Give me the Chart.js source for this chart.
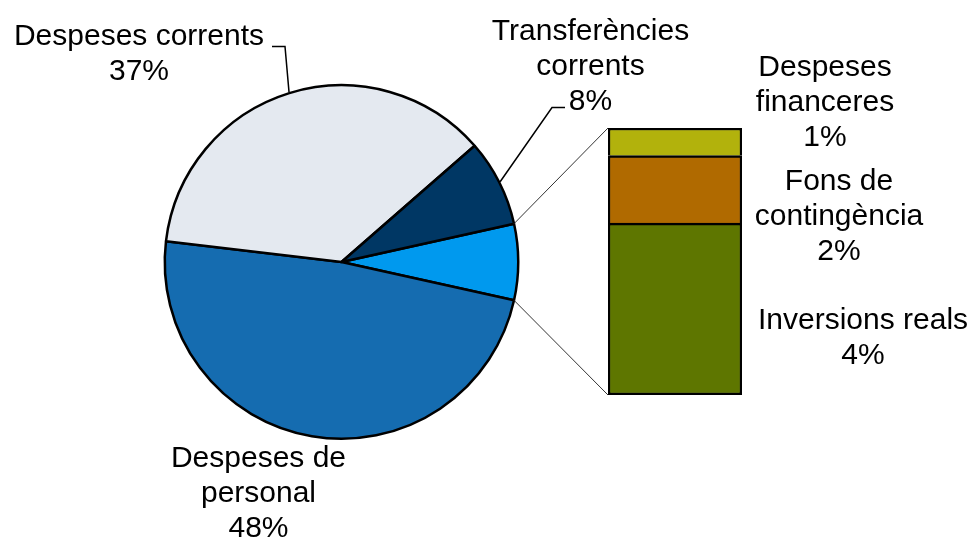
<!DOCTYPE html>
<html><head><meta charset="utf-8">
<script src="https://cdn.jsdelivr.net/npm/chart.js@4/dist/chart.umd.min.js"></script>
<style>
html,body{margin:0;padding:0;background:#fff;}
#wrap{position:relative;width:975px;height:540px;overflow:hidden;}
#wrap canvas{position:absolute;left:0;top:0;}
</style></head><body>
<div id="wrap"><canvas id="pie" width="975" height="540"></canvas><canvas id="bar" width="975" height="540"></canvas></div>
<script>
// ---- data ----
const pieCategories = [['Despeses de', 'personal'], ['Despeses corrents'], ['Transferències', 'corrents']];
const pieValues = [48.4, 36.7, 7.94];
const pieColors = ['#156CB0', '#E4E9F0', '#003764'];
const otherColor = '#0099EE';
const barCategories = [['Inversions reals'], ['Fons de', 'contingència'], ['Despeses', 'financeres']];
const barValues = [4.48, 1.76, 0.72];
const barColors = ['#5E7600', '#B06A00', '#B2B20C'];

// ---- label layout (center x, first baseline y) ----
const pieLabelPos = [{x: 258.5, y: 466.5}, {x: 139, y: 45}, {x: 590.5, y: 39.5}];
const barLabelPos = [{x: 863, y: 328.5}, {x: 839, y: 190}, {x: 825, y: 76}];
// leader lines: elbow point and end point (for slices that have them)
const leaders = [null, {elbow: {x: 285, y: 46.5}, end: {x: 272, y: 46.5}}, {elbow: {x: 552, y: 107.5}, end: {x: 565, y: 107.5}}];
const LINE_H = 35;
const FONT = '30px "Liberation Sans", Arial, sans-serif';

const otherTotal = barValues.reduce((a, b) => a + b, 0);
const grandTotal = otherTotal + pieValues.reduce((a, b) => a + b, 0);
const otherDeg = otherTotal / grandTotal * 360;

const pieChart = new Chart(document.getElementById('pie'), {
  type: 'pie',
  data: {
    labels: ['Altres'].concat(pieCategories.map(l => l.join(' '))),
    datasets: [{
      data: [otherTotal].concat(pieValues),
      backgroundColor: [otherColor].concat(pieColors),
      borderColor: '#000',
      borderWidth: 2.5
    }]
  },
  options: {
    responsive: false,
    animation: false,
    rotation: 90 - otherDeg / 2,
    layout: {padding: {left: 163.5, right: 455.5, top: 84, bottom: 100}},
    plugins: {legend: {display: false}, tooltip: {enabled: false}}
  }
});

const overlay = {
  id: 'overlay',
  afterDraw(chart) {
    const ctx = chart.ctx;
    const arcs = pieChart.getDatasetMeta(0).data;
    ctx.save();
    // connector lines from "other" slice to bar
    const o = arcs[0];
    const topSeg = chart.getDatasetMeta(barValues.length - 1).data[0];
    const botSeg = chart.getDatasetMeta(0).data[0];
    const barLeft = botSeg.x - botSeg.width / 2;
    ctx.strokeStyle = '#333';
    ctx.lineWidth = 1;
    ctx.beginPath();
    ctx.moveTo(o.x + Math.cos(o.startAngle) * o.outerRadius, o.y + Math.sin(o.startAngle) * o.outerRadius);
    ctx.lineTo(barLeft, topSeg.y);
    ctx.moveTo(o.x + Math.cos(o.endAngle) * o.outerRadius, o.y + Math.sin(o.endAngle) * o.outerRadius);
    ctx.lineTo(barLeft, botSeg.base);
    ctx.stroke();

    // leader lines
    ctx.strokeStyle = '#000';
    ctx.lineWidth = 1.5;
    leaders.forEach((ld, i) => {
      if (!ld) return;
      const a = arcs[i + 1];
      const mid = (a.startAngle + a.endAngle) / 2;
      ctx.beginPath();
      ctx.moveTo(a.x + Math.cos(mid) * (a.outerRadius + 1), a.y + Math.sin(mid) * (a.outerRadius + 1));
      ctx.lineTo(ld.elbow.x, ld.elbow.y);
      ctx.lineTo(ld.end.x, ld.end.y);
      ctx.stroke();
    });

    // labels
    ctx.fillStyle = '#000';
    ctx.font = FONT;
    ctx.textAlign = 'center';
    ctx.textBaseline = 'alphabetic';
    const drawLabel = (lines, pct, pos) => {
      const all = lines.concat([pct]);
      all.forEach((t, k) => ctx.fillText(t, pos.x, pos.y + k * LINE_H));
    };
    pieCategories.forEach((lines, i) => drawLabel(lines, Math.round(pieValues[i] / grandTotal * 100) + '%', pieLabelPos[i]));
    barCategories.forEach((lines, i) => drawLabel(lines, Math.round(barValues[i] / grandTotal * 100) + '%', barLabelPos[i]));
    ctx.restore();
  }
};

const barChart = new Chart(document.getElementById('bar'), {
  type: 'bar',
  data: {
    labels: [''],
    datasets: barValues.map((v, i) => ({
      label: barCategories[i].join(' '),
      data: [v],
      backgroundColor: barColors[i],
      borderColor: '#000',
      borderWidth: i === 0 ? {top: 2.5, left: 2.5, right: 2.5, bottom: 2.5} : {top: 2.5, left: 2.5, right: 2.5, bottom: 0},
      borderSkipped: false,
      barPercentage: 1,
      categoryPercentage: 1
    }))
  },
  options: {
    responsive: false,
    animation: false,
    layout: {padding: {left: 608, right: 233, top: 128, bottom: 145}},
    scales: {
      x: {display: false, stacked: true},
      y: {display: false, stacked: true, min: 0, max: otherTotal}
    },
    plugins: {legend: {display: false}, tooltip: {enabled: false}}
  },
  plugins: [overlay]
});
</script>
</body></html>
